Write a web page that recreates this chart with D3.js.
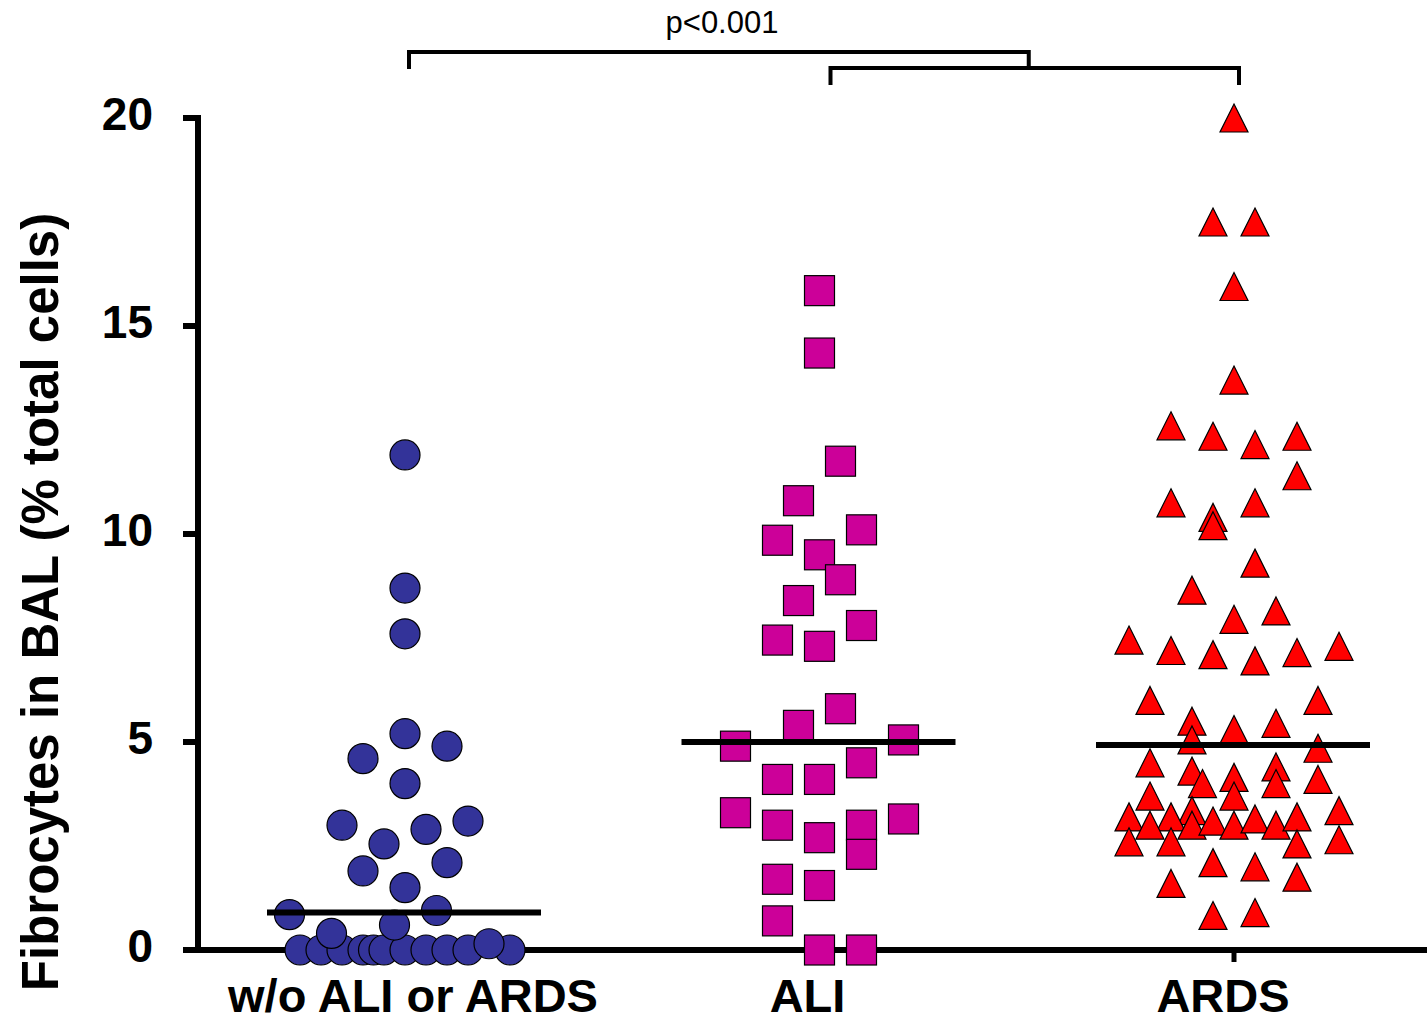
<!DOCTYPE html>
<html>
<head>
<meta charset="utf-8">
<script src="https://cdn.jsdelivr.net/npm/d3@7"></script>
<style>
  body { margin: 0; background: #fff; }
  text { font-family: "Liberation Sans", Arial, sans-serif; }
</style>
</head>
<body>
<div id="chart"></div>
<script>
// groups on the x axis
const groups = ["w/o ALI or ARDS", "ALI", "ARDS"];
const yTicks = [0, 5, 10, 15, 20];

// [value, column slot]
const noInjury = [
    [0, -5], [0, -4], [0, -3], [0, -2], [0, -1.5], [0, -1], [0, 0], [0, 1], [0, 2], [0, 3], [0, 5],
    [11.9, 0], [8.7, 0], [7.6, 0], [5.2, 0], [4.6, -2], [4.9, 2], [4.0, 0],
    [3.0, -3], [2.9, 1], [3.1, 3], [2.55, -1], [2.1, 2], [1.9, -2], [1.5, 0],
    [0.95, 1.5], [0.85, -5.5], [0.4, -3.5], [0.6, -0.5], [0.15, 4]
];
const ali = [
    [15.85, 0], [14.35, 0], [11.75, 1], [10.8, -1], [9.85, -2], [10.1, 2], [9.5, 0],
    [8.9, 1], [8.4, -1], [7.45, -2], [7.8, 2], [7.3, 0], [5.8, 1], [5.4, -1],
    [4.9, -4], [5.05, 4], [4.1, -2], [4.1, 0], [4.5, 2], [3.3, -4], [3.0, -2],
    [2.7, 0], [3.0, 2], [2.3, 2], [3.15, 4], [1.7, -2], [1.55, 0], [0.7, -2],
    [0, 0], [0, 2]
];
const ards = [
    [20.0, 0], [17.5, -1], [17.5, 1], [15.95, 0], [13.7, 0], [12.6, -3], [12.35, -1],
    [12.15, 1], [12.35, 3], [11.4, 3], [10.75, -3], [10.4, -1], [10.2, -1], [10.75, 1],
    [9.3, 1], [8.65, -2], [7.95, 0], [8.15, 2], [7.45, -5], [7.2, -3], [7.1, -1],
    [6.95, 1], [7.15, 3], [7.3, 5], [6.0, -4], [6.0, 4], [5.5, -2], [5.3, 0],
    [5.45, 2], [5.05, -2], [4.85, 4], [4.5, -4], [4.3, -2], [4.0, -1.5], [4.15, 0],
    [4.4, 2], [4.1, 4], [4.0, 2], [3.7, -4], [3.7, 0], [3.35, -2], [3.2, -5],
    [3.2, -3], [3.0, -4], [3.0, -2], [3.1, -1], [3.0, 0], [3.15, 1], [3.0, 2],
    [3.2, 3], [3.35, 5], [2.6, -5], [2.6, -3], [2.55, 3], [2.65, 5], [2.1, -1],
    [2.0, 1], [1.75, 3], [1.6, -3], [0.83, -1], [0.9, 1]
];
const means = [0.9, 5.0, 4.93];
const pLabel = "p<0.001";

const width = 1427;
const height = 1024;

const svg = d3.select("#chart")
    .append("svg")
    .attr("width", width)
    .attr("height", height);

const y = d3.scaleLinear().domain([0, 20]).range([950, 118]);
const x = d3.scalePoint().domain(groups).range([405, 1234]);
const slot = d3.scaleLinear().domain([0, 1]).range([0, 21]);

// axes
svg.append("line")
    .attr("x1", 183).attr("x2", width)
    .attr("y1", y(0)).attr("y2", y(0))
    .attr("stroke", "#000").attr("stroke-width", 6);
svg.append("line")
    .attr("x1", 198).attr("x2", 198)
    .attr("y1", y(20) - 3).attr("y2", y(0))
    .attr("stroke", "#000").attr("stroke-width", 6);

svg.selectAll(".ytick")
    .data(yTicks)
    .enter().append("line")
    .attr("x1", 183).attr("x2", 198)
    .attr("y1", d => y(d)).attr("y2", d => y(d))
    .attr("stroke", "#000").attr("stroke-width", 6);

svg.selectAll(".ylab")
    .data(yTicks)
    .enter().append("text")
    .attr("x", 153)
    .attr("y", d => y(d) - 5)
    .attr("dy", "0.36em")
    .attr("text-anchor", "end")
    .attr("font-size", 46)
    .attr("font-weight", "bold")
    .text(d => d);

svg.selectAll(".xtick")
    .data(groups)
    .enter().append("line")
    .attr("x1", d => x(d)).attr("x2", d => x(d))
    .attr("y1", y(0)).attr("y2", y(0) + 12)
    .attr("stroke", "#000").attr("stroke-width", 5);

const labelShift = [8, -12, -11];
svg.selectAll(".xlab")
    .data(groups)
    .enter().append("text")
    .attr("x", (d, i) => x(d) + labelShift[i])
    .attr("y", 1012)
    .attr("text-anchor", "middle")
    .attr("font-size", 47)
    .attr("font-weight", "bold")
    .text(d => d);

svg.append("text")
    .attr("transform", "translate(58,602) rotate(-90)")
    .attr("text-anchor", "middle")
    .attr("font-size", 51)
    .attr("font-weight", "bold")
    .text("Fibrocytes in BAL (% total cells)");

// markers
svg.selectAll(".circ")
    .data(noInjury)
    .enter().append("circle")
    .attr("cx", d => x(groups[0]) + slot(d[1]))
    .attr("cy", d => y(d[0]))
    .attr("r", 15)
    .attr("fill", "#333399")
    .attr("stroke", "#000")
    .attr("stroke-width", 1.2);

svg.selectAll(".sq")
    .data(ali)
    .enter().append("rect")
    .attr("x", d => x(groups[1]) + slot(d[1]) - 15)
    .attr("y", d => y(d[0]) - 15)
    .attr("width", 30)
    .attr("height", 30)
    .attr("fill", "#CC0099")
    .attr("stroke", "#000")
    .attr("stroke-width", 1.2);

const tri = "M0,-14L14,14L-14,14Z";
svg.selectAll(".tri")
    .data(ards)
    .enter().append("path")
    .attr("d", tri)
    .attr("transform", d => `translate(${x(groups[2]) + slot(d[1])},${y(d[0])})`)
    .attr("fill", "#FF0000")
    .attr("stroke", "#000")
    .attr("stroke-width", 1.2);

// mean lines
svg.selectAll(".mean")
    .data(means)
    .enter().append("line")
    .attr("x1", (d, i) => x(groups[i]) - 138)
    .attr("x2", (d, i) => x(groups[i]) + 136)
    .attr("y1", d => y(d)).attr("y2", d => y(d))
    .attr("stroke", "#000").attr("stroke-width", 6);

// significance brackets
const bL = x(groups[0]) + 4, bM = x(groups[1]) + 11, bR = x(groups[2]) + 5;
const bMid = (bM + bR) / 2 - 6;
const bracket = svg.append("g")
    .attr("fill", "none")
    .attr("stroke", "#000")
    .attr("stroke-width", 4);
bracket.append("path")
    .attr("d", `M${bL},69V52H${bMid}V68`);
bracket.append("path")
    .attr("d", `M${bM},85V68H${bR}V85`);

svg.append("text")
    .attr("x", 722)
    .attr("y", 33)
    .attr("text-anchor", "middle")
    .attr("font-size", 31)
    .text(pLabel);
</script>
</body>
</html>
